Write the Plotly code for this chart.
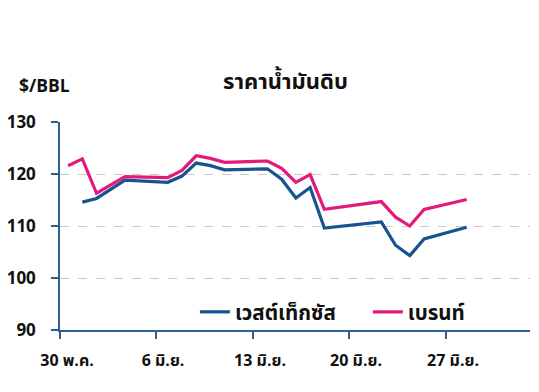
import plotly.graph_objects as go

# ---- data ----
dates = ["2022-05-30", "2022-05-31", "2022-06-01", "2022-06-03",
         "2022-06-06", "2022-06-07", "2022-06-08", "2022-06-09", "2022-06-10",
         "2022-06-13", "2022-06-14", "2022-06-15", "2022-06-16", "2022-06-17",
         "2022-06-21", "2022-06-22", "2022-06-23", "2022-06-24", "2022-06-27"]
wti = [None, 114.6, 115.3, 118.8,
       118.4, 119.6, 122.1, 121.6, 120.8,
       121.0, 119.0, 115.4, 117.4, 109.6,
       110.8, 106.3, 104.3, 107.5, 109.75]
brent = [121.6, 122.9, 116.3, 119.5,
         119.3, 120.7, 123.5, 123.0, 122.25,
         122.5, 121.1, 118.4, 119.9, 113.2,
         114.7, 111.7, 110.0, 113.2, 115.1]
series_names = ["เวสต์เท็กซัส", "เบรนท์"]
x_tick_labels = ["30 พ.ค.", "6 มิ.ย.", "13 มิ.ย.", "20 มิ.ย.", "27 มิ.ย."]
y_tick_vals = [90, 100, 110, 120, 130]
title_text = "ราคาน้ำมันดิบ"
unit_text = "$/BBL"

# ---- styling ----
FONT = "Noto Sans Thai, Tahoma, Arial, Liberation Sans, sans-serif"
BLUE = "#17538d"
PINK = "#e3197d"
AXIS = "#2f5e90"

x_tick_pos = ["2022-05-29 10:31", "2022-06-05 04:19", "2022-06-11 23:48",
              "2022-06-18 17:35", "2022-06-25 13:05"]

fig = go.Figure()
fig.add_trace(go.Scatter(x=dates, y=wti, mode="lines", name=series_names[0],
                         line=dict(color=BLUE, width=3.2), legend="legend"))
fig.add_trace(go.Scatter(x=dates, y=brent, mode="lines", name=series_names[1],
                         line=dict(color=PINK, width=3.2), legend="legend2"))

legend_common = dict(orientation="h", yanchor="middle", xanchor="left",
                     bgcolor="rgba(0,0,0,0)", font=dict(size=20.5, weight="bold"),
                     itemwidth=30)

# the page body has an 8px margin, so the figure is 8px smaller on each axis
fig.update_layout(
    width=531, height=384,
    margin=dict(l=52, r=9, t=114, b=62, autoexpand=False),
    paper_bgcolor="white", plot_bgcolor="white",
    font=dict(family=FONT, size=16, color="#111111", weight="bold"),
    showlegend=True,
    legend=dict(x=0.287, y=0.0865, **legend_common),
    legend2=dict(x=0.655, y=0.0865, **legend_common),
    annotations=[
        dict(text=title_text, x=0.479, y=1.19, xref="paper", yref="paper",
             showarrow=False, font=dict(size=22, weight="bold"),
             xanchor="center", yanchor="middle"),
        dict(text=unit_text, x=-0.091, y=1.171, xref="paper", yref="paper",
             showarrow=False, font=dict(size=17.5, weight="bold"),
             xanchor="left", yanchor="middle"),
    ],
)

fig.update_xaxes(
    type="date",
    range=["2022-05-29 10:25", "2022-07-01 10:36"],
    tickvals=x_tick_pos, ticktext=x_tick_labels,
    ticks="outside", ticklen=7, tickcolor=AXIS, tickwidth=1.5,
    showline=True, linecolor=AXIS, linewidth=1.5,
    showgrid=False, zeroline=False,
    ticklabelshift=7, ticklabelstandoff=8,
    tickfont=dict(size=16, weight="bold"),
)
fig.update_yaxes(
    range=[90, 130], tickvals=y_tick_vals,
    ticks="outside", ticklen=7, tickcolor=AXIS, tickwidth=1.5,
    showline=True, linecolor=AXIS, linewidth=1.5,
    showgrid=True, gridcolor="#c9c9c9", griddash="dash", gridwidth=1,
    zeroline=False, ticklabelstandoff=12,
    tickfont=dict(size=17, weight="bold"),
)

fig.write_html("out.html")
